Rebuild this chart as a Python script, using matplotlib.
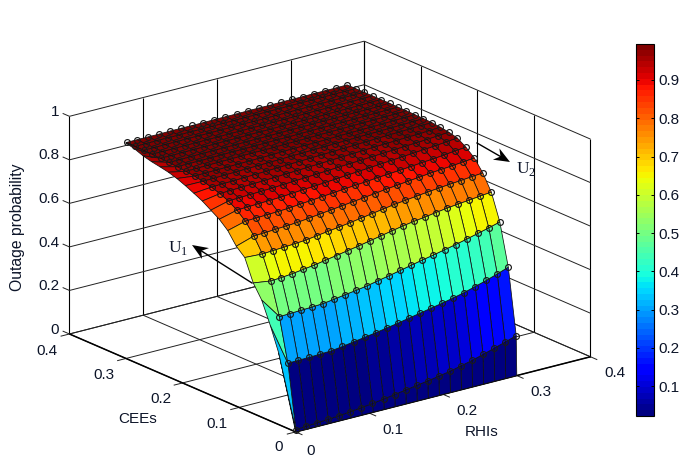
#Outage probability surface over RHIs and CEEs
import numpy as np
import matplotlib
matplotlib.use('Agg')
import matplotlib.pyplot as plt
from matplotlib.cm import ScalarMappable
from matplotlib.colors import Normalize
from matplotlib.lines import Line2D
from matplotlib.patches import Polygon

plt.rcParams['font.family'] = ['Liberation Sans', 'DejaVu Sans']

#Marker grid: 21 x 21 nodes
rhi = [0.001, 0.015, 0.03, 0.045, 0.06, 0.075, 0.09, 0.105, 0.12, 0.135, 0.15,
       0.165, 0.18, 0.195, 0.21, 0.225, 0.24, 0.255, 0.27, 0.285, 0.3]
cee = [0.001, 0.015, 0.03, 0.045, 0.06, 0.075, 0.09, 0.105, 0.12, 0.135, 0.15,
       0.165, 0.18, 0.195, 0.21, 0.225, 0.24, 0.255, 0.27, 0.285, 0.3]

#Outage probability, one row per CEE value, one column per RHI value
outage = [
    [.008,.012,.015,.018,.022,.027,.033,.039,.046,.054,.062,.070,.078,.087,.096,.108,.120,.135,.150,.166,.182],
    [.298,.299,.300,.302,.304,.311,.319,.327,.335,.344,.353,.363,.373,.383,.393,.404,.416,.431,.446,.463,.481],
    [.495,.497,.499,.501,.504,.511,.519,.526,.534,.545,.555,.566,.577,.588,.598,.609,.620,.632,.645,.658,.672],
    [.642,.645,.650,.657,.664,.673,.682,.691,.700,.710,.720,.730,.740,.748,.755,.763,.770,.776,.781,.787,.792],
    [.749,.752,.755,.758,.762,.769,.776,.783,.790,.798,.806,.814,.822,.828,.834,.840,.845,.850,.854,.859,.863],
    [.815,.817,.820,.823,.826,.832,.838,.844,.850,.856,.862,.868,.875,.880,.886,.891,.897,.901,.905,.910,.915],
    [.866,.868,.870,.872,.875,.880,.884,.889,.893,.898,.902,.906,.911,.915,.919,.923,.928,.932,.937,.943,.948],
    [.900,.902,.904,.906,.908,.912,.916,.919,.923,.927,.931,.935,.939,.943,.947,.951,.955,.959,.963,.968,.973],
    [.925,.927,.929,.931,.933,.936,.939,.942,.945,.948,.951,.954,.957,.960,.963,.966,.969,.972,.975,.979,.983],
    [.942,.944,.946,.948,.950,.952,.955,.957,.960,.962,.965,.967,.970,.972,.975,.977,.979,.981,.983,.986,.989],
    [.955,.957,.958,.960,.962,.964,.966,.968,.970,.972,.974,.976,.978,.980,.982,.984,.986,.988,.990,.992,.993],
    [.965,.966,.968,.969,.971,.972,.974,.975,.977,.978,.980,.981,.983,.984,.986,.987,.988,.990,.991,.993,.995],
    [.972,.973,.974,.975,.976,.977,.978,.979,.981,.982,.983,.984,.985,.987,.988,.989,.990,.991,.993,.994,.996],
    [.977,.978,.979,.980,.981,.982,.983,.983,.984,.985,.986,.987,.988,.989,.990,.991,.992,.993,.994,.995,.997],
    [.981,.982,.982,.983,.984,.985,.985,.986,.987,.988,.988,.989,.990,.991,.991,.992,.993,.994,.995,.996,.997],
    [.984,.984,.985,.986,.986,.987,.987,.988,.989,.989,.990,.991,.991,.992,.993,.993,.994,.995,.995,.996,.998],
    [.986,.986,.987,.987,.988,.988,.989,.989,.990,.991,.991,.992,.992,.993,.993,.994,.995,.995,.996,.997,.998],
    [.988,.988,.988,.989,.989,.990,.990,.991,.991,.992,.992,.993,.993,.994,.994,.995,.995,.996,.996,.997,.998],
    [.989,.989,.990,.990,.991,.991,.991,.992,.992,.993,.993,.993,.994,.994,.995,.995,.996,.996,.997,.997,.998],
    [.990,.990,.991,.991,.991,.992,.992,.992,.993,.993,.994,.994,.994,.995,.995,.996,.996,.996,.997,.997,.998],
    [.992,.992,.992,.992,.993,.993,.993,.993,.994,.994,.994,.995,.995,.995,.996,.996,.996,.997,.997,.997,.998],
]

#Lower rim of the surface at RHI = 0: its CEE position and value for each row
rim_cee = [0.03, 0.045, 0.06, 0.075, 0.09, 0.105, 0.12, 0.135, 0.15, 0.165, 0.18,
           0.195, 0.21, 0.225, 0.24, 0.255, 0.27, 0.285, 0.3, 0.3, 0.3]
rim = [.329,.440,.538,.600,.700,.735,.790,.825,.850,.875,.894,.912,.928,.940,.948,.955,.965,.980,.990,.990,.990]
rim_base_level = 0.15

xticks = [0, 0.1, 0.2, 0.3, 0.4]
yticks = [0, 0.1, 0.2, 0.3, 0.4]
zticks = [0, 0.2, 0.4, 0.6, 0.8, 1]
xticklabels = ['0', '0.1', '0.2', '0.3', '0.4']
yticklabels = ['0', '0.1', '0.2', '0.3', '0.4']
zticklabels = ['0', '0.2', '0.4', '0.6', '0.8', '1']
cbar_ticks = [0.1, 0.2, 0.3, 0.4, 0.5, 0.6, 0.7, 0.8, 0.9]

W, H = 687, 465
TXT = '#0c1428'
fig = plt.figure(figsize=(W / 100, H / 100), dpi=100)

def at(px, py):
    return px / W, 1 - py / H

#Square 3D axes placed so the box lands where it does in the picture
ax = fig.add_axes([-29.5 / W, -131 / H, 700 / W, 700 / H], projection='3d',
                  proj_type='ortho', computed_zorder=False)
ax.set_box_aspect((1, 1, 0.621), zoom=0.796)
ax.view_init(elev=19.4, azim=-127.5)
ax.set_xlim(0, 0.4, view_margin=0)
ax.set_ylim(0, 0.4, view_margin=0)
ax.set_zlim(0, 1, view_margin=0)
ax.set_xticks([])
ax.set_yticks([])
ax.set_zticks([])
ax.set_axis_off()

#Box and grid
def line(xs, ys, zs, lw=0.7, color='#222222'):
    ax.plot(xs, ys, zs, color=color, lw=lw, zorder=1, solid_capstyle='butt')

for t in xticks:
    line([t, t], [-0.012, 0.4], [0, 0])
    line([t, t], [0.4, 0.4], [0, 1], color='black', lw=0.8)
for t in yticks:
    line([-0.012, 0.4], [t, t], [0, 0])
    line([0.4, 0.4], [t, t], [0, 1], color='black', lw=0.8)
for t in zticks:
    line([0, 0.4], [0.4, 0.4], [t, t])
    line([0.4, 0.4], [0, 0.4], [t, t])
    line([0, 0], [0.4, 0.412], [t, t])
line([0, 0.4], [0, 0], [0, 0], lw=1.1, color='black')
line([0, 0], [0, 0.4], [0, 0], lw=1.1, color='black')

#Surface with the extra rim column and row
zdata = np.array(outage)
xs = np.array([0.0] + rhi)
ys = np.array([0.0] + cee)
zs = np.zeros((len(ys), len(xs)))
zs[1:, 1:] = zdata
zs[1:, 0] = rim
X, Y = np.meshgrid(xs, ys)
Y[1:, 0] = rim_cee

cmap = plt.get_cmap('jet', 64)
norm = Normalize(0.022, 0.994)
faces = cmap(norm(zs))
faces[0, 0] = cmap(norm(rim_base_level))
ax.plot_surface(X, Y, zs, rstride=1, cstride=1, facecolors=faces, shade=False,
                edgecolor='#111111', linewidth=0.55, antialiased=True, zorder=2)

#Simulation points
Xm, Ym = np.meshgrid(rhi, cee)
ax.plot(Xm.ravel(), Ym.ravel(), zdata.ravel(), ls='none', marker='o', ms=4.2, mfc='none',
        mec='#1a1a1a', mew=0.85, zorder=3)

#Tick labels
for t, s in zip(xticks, xticklabels):
    ax.text(t + 0.0095 if t else t - 0.003, -0.03, -0.05, s, fontsize=11, color=TXT, ha='center', va='center')
for t, s in zip(yticks, yticklabels):
    ax.text(-0.03 if t else -0.023, t, -0.05, s, fontsize=11, color=TXT, ha='center', va='center')
for t, s in zip(zticks, zticklabels):
    ax.text(0, 0.418, t, s, fontsize=11, color=TXT, ha='right', va='center')

#Axis labels
fig.text(*at(482, 432), 'RHIs', fontsize=11, color=TXT, ha='center', va='center')
fig.text(*at(138, 419), 'CEEs', fontsize=11, color=TXT, ha='center', va='center')
fig.text(*at(18, 227), 'Outage probability', fontsize=11.3, color=TXT, rotation=90, ha='center', va='center')

#Direction arrows with a notched head
def arrow(tail, tip):
    tail = np.array(tail, float)
    tip = np.array(tip, float)
    u = (tip - tail) / np.linalg.norm(tip - tail)
    n = np.array([-u[1], u[0]])
    head = [tip, tip - 16 * u + 6.5 * n, tip - 11 * u, tip - 16 * u - 6.5 * n]
    fig.add_artist(Line2D(*zip(*[at(*tail), at(*(tip - 11 * u))]), color='black', lw=1.0))
    fig.add_artist(Polygon([at(*p) for p in head], closed=True, fc='black', ec='none',
                           transform=fig.transFigure))

arrow((252, 283), (192, 245))
arrow((477, 143), (510, 162))
fig.text(*at(178, 248), r'U$_{\mathregular{1}}$', fontsize=12.5, family='Liberation Serif', color=TXT, ha='center', va='center')
fig.text(*at(526, 169), r'U$_{\mathregular{2}}$', fontsize=12.5, family='Liberation Serif', color=TXT, ha='center', va='center')

#Colorbar
cax = fig.add_axes([636 / W, 1 - 416 / H, 18 / W, 372 / H])
cb = fig.colorbar(ScalarMappable(norm=norm, cmap=cmap), cax=cax)
cb.set_ticks(cbar_ticks)
cb.set_ticklabels(['%.1f' % t for t in cbar_ticks])
cb.outline.set_linewidth(0.8)
cax.tick_params(direction='in', left=True, right=True, length=2.5, width=0.7, labelsize=11, labelcolor=TXT, pad=3)

fig.savefig('out.png', dpi=100)
